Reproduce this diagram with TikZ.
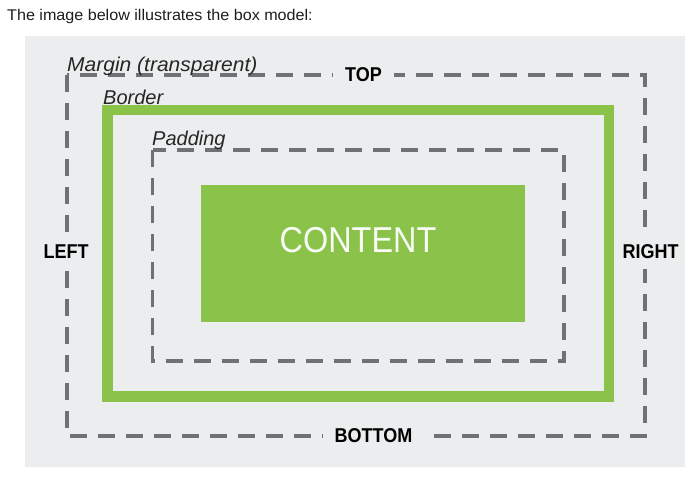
\documentclass[tikz,border=0pt]{standalone}
\usepackage{fontspec}
\setmainfont{Liberation Sans}
\usepackage{graphicx}
\definecolor{bgcol}{HTML}{EBEDEE}
\definecolor{dashgray}{HTML}{6F7172}
\definecolor{boxgreen}{HTML}{8BC34A}
\definecolor{headcol}{HTML}{1E1E1E}
\definecolor{tagcol}{HTML}{262626}
\newcommand{\sqz}[1]{\scalebox{0.9}[1]{#1}}
\begin{document}
\begin{tikzpicture}[x=1pt,y=-1pt,
  dashbox/.style={draw=dashgray, line width=3.5pt, dash pattern=on 17pt off 11pt},
  side/.style={font=\fontsize{20}{24}\selectfont\bfseries, fill=bgcol, inner xsep=12pt, inner ysep=6pt, text=black},
  tag/.style={font=\fontsize{20}{24}\selectfont\itshape, anchor=base west, inner sep=0pt, text=tagcol}]
\useasboundingbox (0,0) rectangle (695,477);
\fill[white] (0,0) rectangle (695,477);
\node[anchor=base west, inner sep=0pt, font=\fontsize{15.5}{18}\selectfont, text=headcol] (head) at (7,20.7) {\scalebox{1.04}[1]{The image below illustrates the box model:}};
\fill[bgcol] (25,36) rectangle (685,467);
% margin
\draw[dashbox] (67,75) rectangle (645,436);
% border
\draw[boxgreen, line width=10.5pt] (107.5,110) rectangle (609,396.5);
% padding
\draw[dashbox] (152.5,150) rectangle (564,361);
% content
\node[fill=boxgreen, minimum width=324pt, minimum height=137pt, inner sep=0pt, anchor=north west] (content) at (201,185) {};
\node[font=\fontsize{36}{40}\selectfont, text=white!95!boxgreen, inner sep=0pt] (contenttext) at (358,240) {\sqz{CONTENT}};
% labels
\node[tag] (marginlbl) at (67,71) {\scalebox{1.05}[1]{Margin (transparent)}};
\node[tag] (borderlbl) at (103,104) {Border};
\node[tag] (paddinglbl) at (152,145.5) {Padding};
\node[side] (top) at (363.5,74.5) {\sqz{TOP}};
\node[side] (bottom) at (373.5,435.5) {\sqz{BOTTOM}};
\node[side, inner xsep=2pt, inner ysep=10pt] (left) at (66,252) {\sqz{LEFT}};
\node[side, inner xsep=2pt, inner ysep=10pt] (right) at (650.5,251.5) {\sqz{RIGHT}};
\end{tikzpicture}
\end{document}
